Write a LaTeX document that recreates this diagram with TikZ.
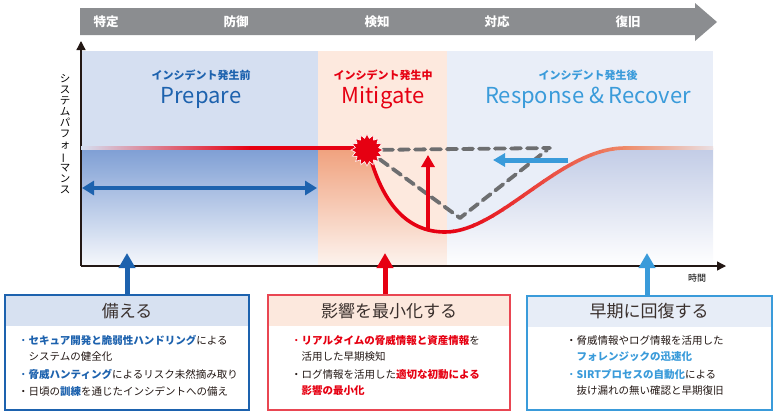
\documentclass[tikz,border=0pt]{standalone}
\usepackage{fontspec}
\setmainfont{Noto Sans CJK JP}
\usetikzlibrary{arrows.meta,shapes.geometric}

\definecolor{bandgray}{HTML}{8B8D90}
\definecolor{axisblack}{HTML}{231815}
\definecolor{prepTop}{HTML}{D5DFF1}
\definecolor{prepLow}{HTML}{7E9ED4}
\definecolor{prepBot}{HTML}{F6F8FC}
\definecolor{mitTop}{HTML}{FDE9DE}
\definecolor{mitLow}{HTML}{F0A17D}
\definecolor{mitBot}{HTML}{FDF4EF}
\definecolor{resTop}{HTML}{E9EEF8}
\definecolor{resLow}{HTML}{C2CCE6}
\definecolor{curvered}{HTML}{E60012}
\definecolor{curveorange}{HTML}{EE8A68}
\definecolor{dashgray}{HTML}{6D6E70}
\definecolor{prepText}{HTML}{1D62AE}
\definecolor{resText}{HTML}{3A9BDA}
\definecolor{mitBorder}{HTML}{E94652}
\definecolor{mitHead}{HTML}{FCE8DD}
\definecolor{prepHead}{HTML}{D7E1F1}
\definecolor{resHead}{HTML}{E7EDF7}
\definecolor{bodytext}{HTML}{231815}

\begin{document}
\begin{tikzpicture}[x=1pt,y=-1pt]
  \tikzset{bandtext/.style={text=white,font=\fontsize{12.5}{14}\selectfont\bfseries,inner sep=0},
    phaseSmall/.style={font=\fontsize{11}{13}\selectfont\bfseries,inner sep=0},
    phaseBig/.style={font=\fontsize{22}{26}\selectfont,inner sep=0},
    axis/.style={axisblack,line width=1.3,-{Triangle[length=9pt,width=9pt]}},
    curve/.style={line width=3.6},
    dashline/.style={dashgray,line width=3.8,dash pattern=on 10pt off 6pt,line cap=round,line join=round},
    thickarrow/.style={line width=4.2,-{Triangle[length=12pt,width=13pt]}},
    uparrow/.style={line width=5,-{Triangle[length=15pt,width=16pt]}},
    infobox/.style={draw,line width=1.5,fill=white,inner sep=0},
    boxtitle/.style={text=bodytext!90,font=\fontsize{17}{19}\selectfont,inner sep=0},
    boxbody/.style={text=bodytext,align=left,font=\fontsize{10.5}{16.5}\selectfont,inner sep=0}}
  \useasboundingbox (0,0) rectangle (778,416);

  % phase band
  \fill[bandgray] (80,8) -- (695,8) -- (695,3) -- (717,22) -- (695,41) -- (695,35) -- (80,35) -- cycle;
  \foreach \x/\t/\n in {106/特定/ident,236/防御/prot,377/検知/detc,497/対応/resp,628/復旧/recv}
    \node[bandtext] (band-\n) at (\x,22) {\t};

  % panels
  \fill[prepTop] (81,51) rectangle (318,266);
  \fill[mitTop] (318,51) rectangle (447,266);
  \fill[resTop] (447,51) rectangle (713,266);
  \begin{scope}
    \clip (81,148) -- (368,148) .. controls (382,205) and (408,232) .. (445,232)
      .. controls (500,232) and (560,148) .. (625,148) -- (713,148) -- (713,266) -- (81,266) -- cycle;
    \shade[top color=prepLow,bottom color=prepBot] (81,148) rectangle (318,266);
    \shade[top color=mitLow,bottom color=mitBot] (318,148) rectangle (447,266);
    \shade[top color=resLow,bottom color=white] (447,148) rectangle (713,266);
  \end{scope}

  \node[phaseSmall,prepText] (prepJp) at (201,75) {インシデント発生前};
  \node[phaseBig,prepText] (prepEn) at (201,98) {Prepare};
  \node[phaseSmall,curvered] (mitJp) at (383,75) {インシデント発生中};
  \node[phaseBig,curvered] (mitEn) at (383,98) {Mitigate};
  \node[phaseSmall,resText] (resJp) at (588,75) {インシデント発生後};
  \node[phaseBig,resText] (resEn) at (588,98) {Response \& Recover};

  % axes
  \coordinate (origin) at (81,266);
  \coordinate (yTop) at (81,41);
  \coordinate (xEnd) at (726,266);
  \draw[axis] (origin) -- (yTop);
  \draw[axis] (origin) -- (xEnd);
  \node[align=center,inner sep=0,font=\fontsize{10.5}{11.1}\selectfont] (ylabel) at (65,134)
    {シ\\ス\\テ\\ム\\パ\\フ\\ォ\\\rotatebox[origin=c]{90}{ー}\\マ\\ン\\ス};
  \node[inner sep=0,font=\fontsize{9}{10}\selectfont] (xlabel) at (697,278) {時間};

  % performance line
  \shade[left color=prepTop,right color=curvered] (81,146.2) rectangle (250,149.8);
  \draw[curve,curvered] (249,148) -- (368,148);
  \shade[left color=curveorange,right color=curveorange!15!resTop] (624,146.2) rectangle (713,149.8);

  \coordinate (dEnd) at (550,148);
  \coordinate (dLow) at (460,218);
  \coordinate (dUp) at (547,150);
  \node[star,star points=16,star point ratio=1.35,minimum size=32,inner sep=0] (burst) at (367,150) {};
  \draw[dashline] (burst.center) -- (dEnd);
  \draw[dashline] (burst.center) -- (dLow) -- (dUp);

  \draw[curve,curvered] (368,149) .. controls (382,205) and (408,232) .. (445,232);
  \foreach \k [evaluate=\k as \p using \k*100/18] in {0,...,18} {
    \begin{scope}
      \clip (443+10*\k,130) rectangle (454+10*\k,240);
      \draw[curve,draw=curveorange!\p!curvered] (445,232) .. controls (500,232) and (560,148) .. (625,148);
    \end{scope}
  }
  \node[star,star points=16,star point ratio=1.35,minimum size=32,inner sep=0,
    fill=curvered,draw=white,line width=0.6] at (burst) {};

  % arrows in the chart
  \coordinate (mitBase) at (428,231);
  \coordinate (mitUp) at (428,155);
  \draw[thickarrow,curvered] (mitBase) -- (mitUp);
  \coordinate (resFrom) at (568,160);
  \coordinate (resTo) at (493,160);
  \draw[thickarrow,resText,line width=5] (resFrom) -- (resTo);
  \coordinate (prepL) at (82,188);
  \coordinate (prepR) at (317,188);
  \draw[prepText,line width=4.5,{Triangle[length=12pt,width=14pt]}-{Triangle[length=12pt,width=14pt]}] (prepL) -- (prepR);

  % boxes
  \node[infobox,draw=prepText,minimum width=244,minimum height=115,
    path picture={\fill[prepHead] (path picture bounding box.north west) rectangle ([yshift=-31pt]path picture bounding box.north east);}]
    (prepbox) at (127,352.5) {};
  \node[infobox,draw=mitBorder,minimum width=242,minimum height=115,
    path picture={\fill[mitHead] (path picture bounding box.north west) rectangle ([yshift=-31pt]path picture bounding box.north east);}]
    (mitbox) at (389,352.5) {};
  \node[infobox,draw=resText,minimum width=245,minimum height=114,
    path picture={\fill[resHead] (path picture bounding box.north west) rectangle ([yshift=-31pt]path picture bounding box.north east);}]
    (resbox) at (649.5,353) {};

  \coordinate (prepTip) at (127,253);
  \coordinate (mitTip) at (385,253);
  \coordinate (resTip) at (647,253);
  \draw[uparrow,prepText] (prepTip |- prepbox.north) -- (prepTip);
  \draw[uparrow,curvered] (mitTip |- mitbox.north) -- (mitTip);
  \draw[uparrow,resText] (resTip |- resbox.north) -- (resTip);

  \node[boxtitle] (preptitle) at (127,311) {備える};
  \node[boxtitle] (mittitle) at (389,311) {影響を最小化する};
  \node[boxtitle] (restitle) at (649,311) {早期に回復する};

  \node[boxbody,anchor=north west] (prepbody) at (18,335)
    {\textcolor{prepText}{・\textbf{セキュア開発と脆弱性ハンドリング}}による\\
     \hspace*{1em}システムの健全化\\[1pt]
     \textcolor{prepText}{・\textbf{脅威ハンティング}}によるリスク未然摘み取り\\[1pt]
     ・日頃の\textcolor{prepText}{\textbf{訓練}}を通じたインシデントへの備え};
  \node[boxbody,anchor=north west] (mitbody) at (291,335)
    {\textcolor{curvered}{・\textbf{リアルタイムの脅威情報と資産情報}}を\\
     \hspace*{1em}活用した早期検知\\[1pt]
     ・ログ情報を活用した\textcolor{curvered}{\textbf{適切な初動による}}\\
     \hspace*{1em}\textcolor{curvered}{\textbf{影響の最小化}}};
  \node[boxbody,anchor=north west] (resbody) at (566,335)
    {・脅威情報やログ情報を活用した\\
     \hspace*{1em}\textcolor{resText}{\textbf{フォレンジックの迅速化}}\\[1pt]
     \textcolor{resText}{・\textbf{SIRTプロセスの自動化}}による\\
     \hspace*{1em}抜け漏れの無い確認と早期復旧};
\end{tikzpicture}
\end{document}
